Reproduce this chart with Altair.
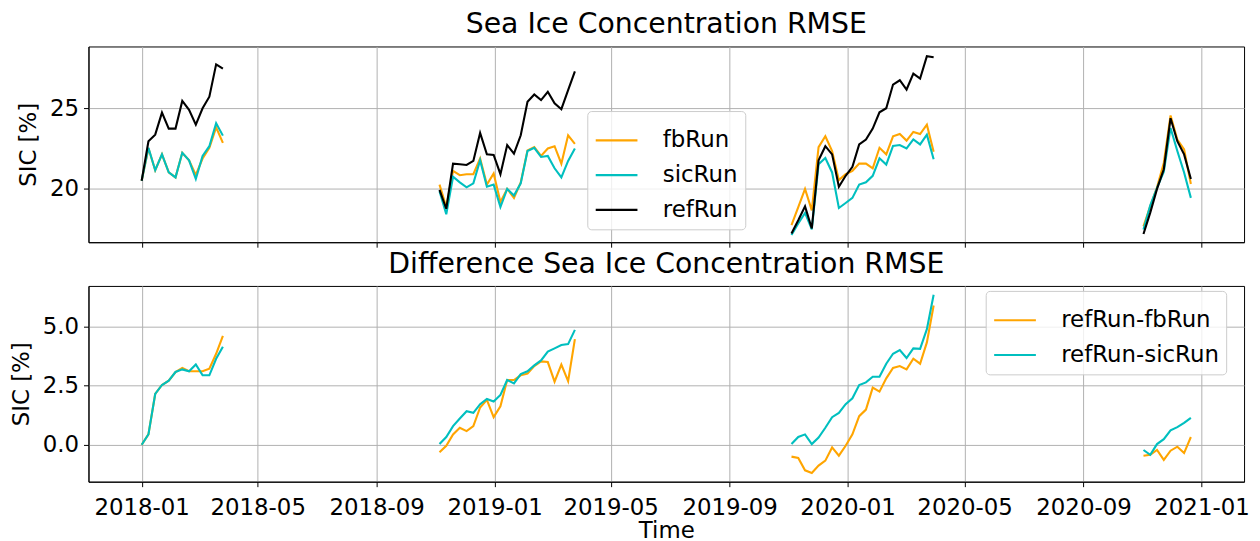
import altair as alt
import pandas as pd

# ---- data ----
season_starts = ["2018-01-01", "2018-11-05", "2019-11-04", "2020-11-02"]
season_lengths = [13, 21, 22, 8]

ref_run = [20.49, 22.96, 23.37, 24.75, 23.75, 23.75, 25.48, 24.92, 24.00, 25.02, 25.74, 27.76, 27.49,
           19.92, 18.74, 21.56, 21.52, 21.48, 21.73, 23.48, 22.14, 22.10, 20.90, 22.72, 22.18, 23.33,
           25.43, 25.88, 25.53, 26.05, 25.33, 24.96, 26.15, 27.33,
           17.20, 18.02, 18.89, 17.51, 21.77, 22.65, 22.14, 20.12, 20.80, 21.36, 22.76, 23.07, 23.75,
           24.77, 25.02, 26.50, 26.77, 26.19, 27.18, 26.87, 28.27, 28.21,
           17.16, 18.50, 19.98, 21.21, 24.40, 22.96, 22.14, 20.60]
fb_run = [20.49, 22.52, 21.15, 22.14, 21.01, 20.70, 22.24, 21.77, 20.85, 21.88, 22.55, 23.83, 22.86,
          20.25, 18.85, 21.11, 20.84, 20.90, 20.90, 21.89, 20.25, 20.95, 19.16, 19.98, 19.42, 20.39,
          22.39, 22.59, 22.04, 22.51, 22.65, 21.56, 23.33, 22.80,
          17.72, 18.85, 19.98, 18.64, 22.59, 23.27, 22.35, 20.53, 20.90, 21.11, 21.56, 21.56, 21.27,
          22.55, 22.14, 23.27, 23.41, 23.00, 23.54, 23.41, 23.99, 22.30,
          17.65, 18.89, 20.08, 21.60, 24.57, 23.07, 22.45, 20.29]
sic_run = [20.49, 22.55, 21.15, 22.14, 21.01, 20.70, 22.24, 21.77, 20.60, 22.04, 22.65, 24.09, 23.31,
           19.84, 18.40, 20.74, 20.39, 20.08, 20.33, 21.77, 20.12, 20.25, 18.85, 19.98, 19.57, 20.33,
           22.35, 22.55, 21.98, 22.04, 21.27, 20.70, 21.73, 22.51,
           17.10, 17.82, 18.48, 17.45, 21.52, 21.91, 21.01, 18.79, 19.10, 19.42, 20.25, 20.39, 20.80,
           21.89, 21.50, 22.67, 22.72, 22.51, 23.07, 22.76, 23.37, 21.83,
           17.45, 18.95, 20.04, 21.05, 23.79, 22.35, 21.01, 19.42]
diff_fb = [0.00, 0.44, 2.15, 2.53, 2.71, 3.08, 3.25, 3.11, 3.11, 3.11, 3.22, 3.85, 4.61,
           -0.32, -0.04, 0.44, 0.72, 0.58, 0.79, 1.58, 1.90, 1.17, 1.63, 2.74, 2.74, 2.94,
           3.01, 3.33, 3.53, 3.50, 2.67, 3.39, 2.69, 4.47,
           -0.50, -0.56, -1.08, -1.19, -0.88, -0.67, -0.11, -0.46, -0.04, 0.44, 1.21, 1.49, 2.42,
           2.25, 2.81, 3.25, 3.33, 3.19, 3.64, 3.43, 4.33, 5.89,
           -0.46, -0.42, -0.22, -0.64, -0.25, -0.08, -0.35, 0.33]
diff_sic = [0.00, 0.44, 2.15, 2.53, 2.71, 3.08, 3.19, 3.11, 3.40, 2.94, 2.94, 3.64, 4.15,
            0.03, 0.33, 0.79, 1.11, 1.42, 1.35, 1.72, 1.94, 1.83, 2.11, 2.74, 2.60, 2.99,
            3.11, 3.36, 3.57, 3.94, 4.08, 4.22, 4.26, 4.86,
            0.03, 0.33, 0.44, 0.03, 0.31, 0.72, 1.17, 1.35, 1.72, 1.97, 2.53, 2.64, 2.88,
            2.88, 3.43, 3.85, 4.01, 3.67, 4.08, 4.06, 4.89, 6.35,
            -0.22, -0.42, 0.03, 0.24, 0.61, 0.75, 0.93, 1.14]

top_names = ["fbRun", "sicRun", "refRun"]
bottom_names = ["refRun-fbRun", "refRun-sicRun"]
line_colors_top = ["#ffa500", "#00bfbf", "#000000"]
line_colors_bottom = ["#ffa500", "#00bfbf"]
tick_dates = [(2018, 1), (2018, 5), (2018, 9), (2019, 1), (2019, 5), (2019, 9),
              (2020, 1), (2020, 5), (2020, 9), (2021, 1)]

# weekly dates per season
dates, seasons = [], []
for k, (start, n) in enumerate(zip(season_starts, season_lengths)):
    for d in pd.date_range(start, periods=n, freq="7D"):
        dates.append(d.strftime("%Y-%m-%d"))
        seasons.append(k)


def frame(name, vals):
    return pd.DataFrame({"date": dates, "season": seasons, "series": name, "value": vals})


FONT = "DejaVu Sans"
x_domain = [alt.DateTime(year=2017, month=11, date=7, utc=True),
            alt.DateTime(year=2021, month=2, date=14, utc=True)]
x_values = [alt.DateTime(year=y, month=m, date=1, utc=True) for y, m in tick_dates]


def x_enc(show_labels):
    return alt.X(
        "date:T",
        scale=alt.Scale(type="utc", domain=x_domain),
        axis=alt.Axis(values=x_values, format="%Y-%m", labels=show_labels,
                      title="Time" if show_labels else None, grid=True,
                      labelPadding=10, titlePadding=0),
    )


W, H = 1163, 197


def panel(series_list, names, colors, ydom, yvals, yfmt, title, lx, ly):
    cscale = alt.Scale(domain=names, range=colors)
    legend = alt.Legend(orient="none", legendX=lx, legendY=ly, title=None,
                        symbolType="stroke", symbolSize=1764, symbolStrokeWidth=2.2,
                        labelFontSize=23, labelFont=FONT, labelColor="black",
                        fillColor="rgba(255,255,255,0.8)", strokeColor="#cccccc",
                        cornerRadius=4, padding=7, labelOffset=24, rowPadding=0)
    layers = []
    for name, vals in zip(names, series_list):
        layers.append(
            alt.Chart(frame(name, vals)).mark_line(strokeWidth=2.1).encode(
                x=x_enc(yfmt == ".1f"),
                y=alt.Y("value:Q",
                        scale=alt.Scale(domain=ydom, nice=False, zero=False),
                        axis=alt.Axis(values=yvals, format=yfmt, title="SIC [%]", grid=True)),
                color=alt.Color("series:N", scale=cscale, legend=legend),
                detail="season:N",
            )
        )
    return alt.layer(*layers).properties(
        width=W, height=H,
        title=alt.Title(title, fontSize=28.5, font=FONT, fontWeight="normal",
                        offset=8, anchor="middle", color="black"),
    )


top = panel([fb_run, sic_run, ref_run], top_names, line_colors_top,
            [16.65, 28.88], [20, 25], "d", "Sea Ice Concentration RMSE", 502, 65)
bottom = panel([diff_fb, diff_sic], bottom_names, line_colors_bottom,
               [-1.56, 6.72], [0, 2.5, 5], ".1f", "Difference Sea Ice Concentration RMSE", 903, 5)

chart = (
    alt.vconcat(top, bottom, spacing=1)
    .resolve_scale(y="independent", color="independent")
    .properties(padding={"left": 1, "top": 0, "right": 2, "bottom": 0})
    .configure(font=FONT)
    .configure_view(stroke="black", strokeWidth=1)
    .configure_axis(gridColor="#b0b0b0", gridWidth=1, domainColor="black", domainWidth=1,
                    tickColor="black", tickSize=5, tickWidth=1, labelColor="black",
                    titleColor="black", labelFontSize=23, titleFontSize=23, labelFont=FONT,
                    titleFont=FONT, titleFontWeight="normal", labelPadding=5, titlePadding=9)
)

chart.save("out.html", embed_options={"renderer": "svg", "actions": False})
